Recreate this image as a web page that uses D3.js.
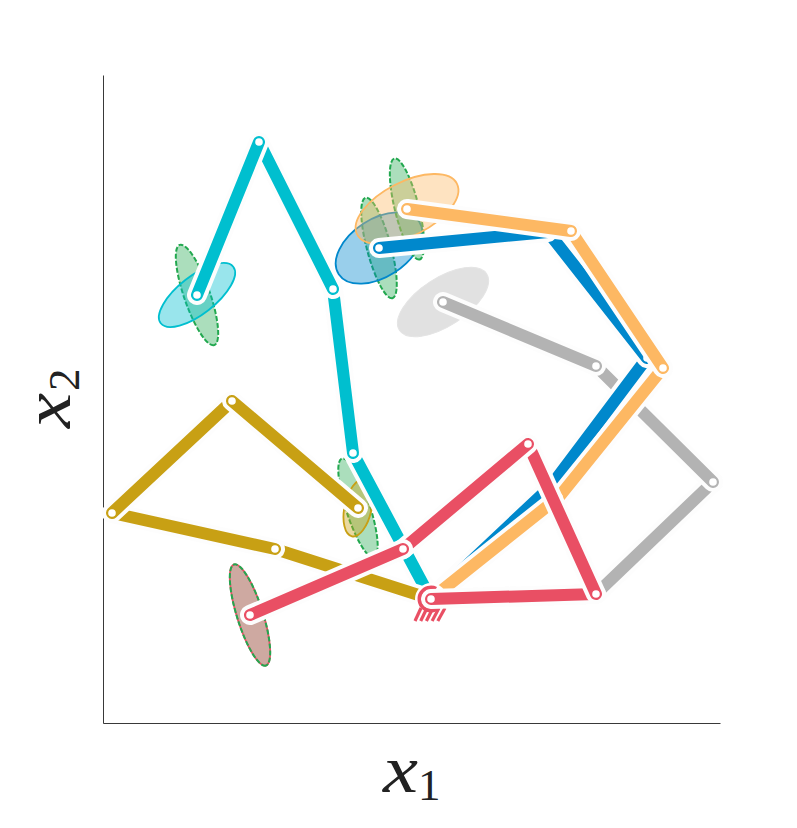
<!DOCTYPE html>
<html><head><meta charset="utf-8">
<script src="https://cdn.jsdelivr.net/npm/d3@7/dist/d3.min.js"></script>
<style>html,body{margin:0;padding:0;background:#fff}svg{display:block}</style>
</head><body><svg id="c" width="797" height="828"></svg>
<script>
// Data units: x1 0..617, x2 0..648
const base = [328, 124];
const grayArm   = [[493,129],[610,241],[493,357],[340,421]];
const blueArm   = [[447,236],[544,365],[445,491],[276,475]];
const orangeArm = [[456,226],[560,355],[468,492],[304,514]];
const tealArm   = [[250,270],[230,434],[156,581],[94,428]];
const goldArm   = [[172,174],[9,210],[129,322],[255,215]];
const redArm    = [[493,129],[425,279],[300,174],[147,108]];
const armNames  = ["gray","blue","orange","teal","gold","red"];
const armColors = ["#b3b3b3","#0088cc","#fdb863","#00bfcf","#c8a014","#e94f64"];
const arms      = [grayArm,blueArm,orangeArm,tealArm,goldArm,redArm];
// end-effector ellipses: semi-major, semi-minor, tilt
const ellMajor = [52,48,56,46,29,53];
const ellMinor = [24,29,27,19,13.5,13];
const ellTilt  = [-33,-33,-27,-38,-78,72.5];
const greenMajor = [0,52,52,53,52,53];
const greenMinor = [0,12,12,13,12,13];
const greenTilt  = [0,75,76,71,72,72.5];

const svg = d3.select("#c");
const x = d3.scaleLinear().domain([0,617]).range([103,720]);
const y = d3.scaleLinear().domain([0,648]).range([723,75]);

svg.append("g").attr("transform","translate(0,723)")
  .call(d3.axisBottom(x).tickValues([]).tickSizeOuter(0));
svg.append("g").attr("transform","translate(103,0)")
  .call(d3.axisLeft(y).tickValues([]).tickSizeOuter(0));
svg.selectAll(".domain").attr("stroke","#222").attr("stroke-width",0.9);

const line = d3.line().x(d=>x(d[0])).y(d=>y(d[1]));
const GREEN = "#22a84f";
const FILL_OP = 0.4;

// all ellipses first
const eg = svg.append("g").attr("class","ellipses");
arms.forEach((arm,i)=>{
  const col = armColors[i];
  const end = arm[arm.length-1];
  const tf = t => `translate(${x(end[0])},${y(end[1])}) rotate(${t})`;
  if (greenMajor[i]>0) {
    eg.append("ellipse").attr("rx",greenMajor[i]).attr("ry",greenMinor[i])
      .attr("transform",tf(greenTilt[i]))
      .attr("fill",GREEN).attr("fill-opacity",i===5?0.3:0.38)
      .attr("stroke",i===5?"none":GREEN).attr("stroke-width",2).attr("stroke-dasharray","5 2");
  }
  eg.append("ellipse").attr("rx",ellMajor[i]).attr("ry",ellMinor[i])
    .attr("transform",tf(ellTilt[i]))
    .attr("fill",col).attr("fill-opacity",FILL_OP)
    .attr("stroke",i===0?"#e4e4e4":col).attr("stroke-width",i===0?1:1.8);
  if (i===5) {
    eg.append("ellipse").attr("rx",greenMajor[i]).attr("ry",greenMinor[i])
      .attr("transform",tf(greenTilt[i]))
      .attr("fill","none").attr("stroke",GREEN).attr("stroke-width",2).attr("stroke-dasharray","5 2");
  }
});

arms.forEach((arm,i)=>{
  const col = armColors[i];
  const g = svg.append("g").attr("class",armNames[i]);
  if (i===5) {
    const bx = x(base[0]), by = y(base[1]);
    g.append("circle").attr("cx",bx).attr("cy",by).attr("r",16).attr("fill","#fff");
    d3.range(5).forEach(k=>{
      g.append("line")
        .attr("x1",bx-10+k*6).attr("y1",by+9)
        .attr("x2",bx-16+k*5.7).attr("y2",by+22)
        .attr("stroke",col).attr("stroke-width",3.2);
    });
    g.append("path")
      .attr("d",d3.arc().innerRadius(9.5).outerRadius(13.5).startAngle(2.4).endAngle(Math.PI*2+0.46)())
      .attr("transform",`translate(${bx},${by})`).attr("fill",col);
  }
  const pts = [base].concat(arm);
  // links, base first, so each later halo cuts the previous link
  d3.pairs(pts).forEach(([a,b])=>{
    g.append("path").attr("d",line([a,b])).attr("fill","none")
      .attr("stroke","#fdfdfd").attr("stroke-width",20).attr("stroke-linecap","round");
    g.append("path").attr("d",line([a,b])).attr("fill","none")
      .attr("stroke",col).attr("stroke-width",12).attr("stroke-linecap","round");
  });
  (i===5?pts:pts.slice(1)).forEach(p=>{
    g.append("circle").attr("cx",x(p[0])).attr("cy",y(p[1])).attr("r",3.8).attr("fill","#fff");
  });
});

const font = "'Liberation Serif','DejaVu Serif',serif";
const lab = (t,main,sub,dx,dy)=>{
  const s = svg.append("text").attr("transform",t).attr("font-family",font).attr("fill","#222");
  s.append("tspan").attr("x",0).attr("y",0).attr("font-style","italic").attr("font-size",68)
    .attr("textLength",35).attr("lengthAdjust","spacingAndGlyphs").text(main);
  s.append("tspan").attr("x",dx).attr("y",dy).attr("font-size",45).text(sub);
};
lab("translate(383,792)","x","1",35,8);
lab("translate(70,428) rotate(-90)","x","2",37,9);
</script></body></html>
